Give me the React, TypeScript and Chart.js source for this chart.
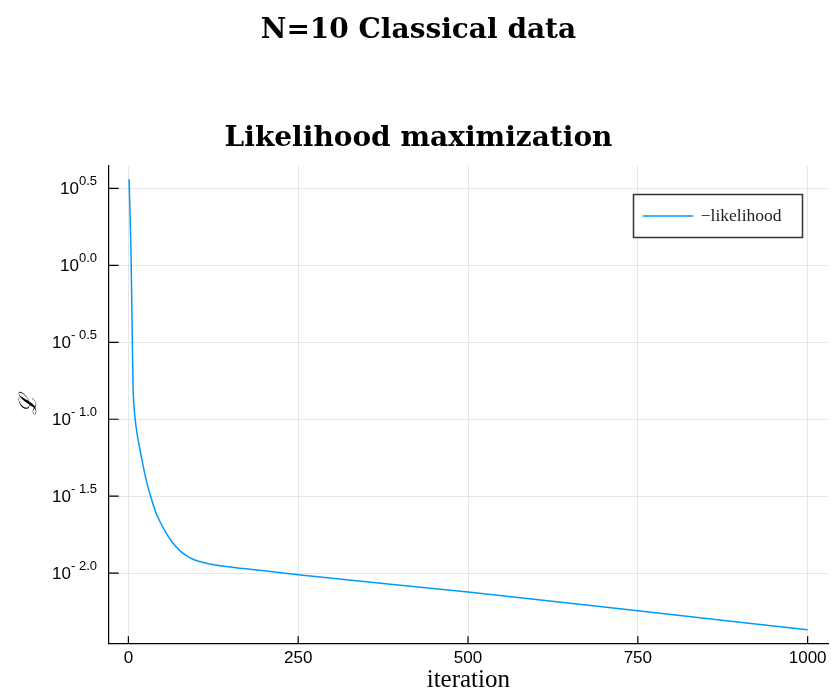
import { useEffect, useRef } from 'react';
import { Chart, registerables } from 'chart.js';

Chart.register(...registerables);

// ---- data ----
const iterations = [1, 4, 6, 7, 8, 10, 12, 15, 18, 22, 27, 32, 40, 47, 55, 65, 76, 85, 95, 105, 120, 150, 200, 250, 500, 750, 1000];
const negLikelihood = [3.63, 1.12, 0.282, 0.158, 0.126, 0.1, 0.0851, 0.0708, 0.0603, 0.049, 0.0389, 0.0324, 0.0251, 0.0214, 0.0184, 0.0158, 0.01396, 0.01303, 0.0123, 0.01189, 0.01148, 0.01096, 0.01035, 0.00977, 0.00753, 0.00569, 0.00429];

const xTicks = [0, 250, 500, 750, 1000];
const yTickExponents = [0.5, 0.0, -0.5, -1.0, -1.5, -2.0];

const xMin = -28.97;
const xMax = 1029.97;
const yMinExp = -2.456;
const yMaxExp = 0.646;

const mainTitle = 'N=10 Classical data';
const subTitle = 'Likelihood maximization';
const xLabel = 'iteration';
const yLabel = 'ℒ';
const seriesLabel = '−likelihood';
const lineColor = '#009AFA';

export default function App() {
  const ref = useRef<HTMLCanvasElement>(null);

  useEffect(() => {
    const canvas = ref.current;
    if (!canvas) return;

    const deco = {
      id: 'deco',
      afterDraw(chart: any) {
        const { ctx, chartArea: ca } = chart;
        const xs = chart.scales.x;
        const ys = chart.scales.y;
        ctx.save();

        // inward tick marks
        ctx.strokeStyle = '#000';
        ctx.lineWidth = 1.2;
        ctx.beginPath();
        xTicks.forEach((v) => {
          const px = xs.getPixelForValue(v);
          ctx.moveTo(px, ca.bottom);
          ctx.lineTo(px, ca.bottom - 7);
        });
        yTickExponents.forEach((e) => {
          const py = ys.getPixelForValue(Math.pow(10, e));
          ctx.moveTo(ca.left, py);
          ctx.lineTo(ca.left + 10, py);
        });
        ctx.stroke();

        // x tick labels
        ctx.fillStyle = '#000';
        ctx.font = '17px "Liberation Sans", Arial, sans-serif';
        ctx.textAlign = 'center';
        ctx.textBaseline = 'top';
        xTicks.forEach((v) => {
          ctx.fillText(String(v), xs.getPixelForValue(v), ca.bottom + 7);
        });

        // y tick labels with superscript
        const rightEdge = 97;
        yTickExponents.forEach((e) => {
          const py = ys.getPixelForValue(Math.pow(10, e));
          const sup = e < 0 ? '- ' + Math.abs(e).toFixed(1) : e.toFixed(1);
          ctx.font = '17px "Liberation Sans", Arial, sans-serif';
          const wb = ctx.measureText('10').width;
          ctx.font = '13px "Liberation Sans", Arial, sans-serif';
          const wsup = ctx.measureText(sup).width;
          const xsup = rightEdge - wsup;
          const xb = xsup - wb;
          ctx.textAlign = 'left';
          ctx.textBaseline = 'middle';
          ctx.font = '17px "Liberation Sans", Arial, sans-serif';
          ctx.fillText('10', xb, py + 1);
          ctx.font = '13px "Liberation Sans", Arial, sans-serif';
          ctx.fillText(sup, xsup, py - 7);
        });

        // axis titles
        ctx.font = '25px "Liberation Serif", "DejaVu Serif", serif';
        ctx.textAlign = 'center';
        ctx.textBaseline = 'alphabetic';
        ctx.fillText(xLabel, (ca.left + ca.right) / 2, 687);

        ctx.save();
        ctx.translate(30, (ca.top + ca.bottom) / 2);
        ctx.rotate(-Math.PI / 2);
        ctx.font = 'italic 24px "DejaVu Serif", serif';
        ctx.textAlign = 'center';
        ctx.textBaseline = 'middle';
        ctx.fillText(yLabel, 0, 0);
        ctx.restore();

        // titles
        ctx.font = 'bold 28px "DejaVu Serif", serif';
        ctx.textAlign = 'center';
        ctx.textBaseline = 'alphabetic';
        ctx.fillText(mainTitle, 418.5, 38);
        ctx.fillText(subTitle, 418.5, 146);

        // legend
        const lx = 633.5, ly = 194.5, lw = 169, lh = 43;
        ctx.fillStyle = '#fff';
        ctx.fillRect(lx, ly, lw, lh);
        ctx.strokeStyle = '#333';
        ctx.lineWidth = 1.5;
        ctx.strokeRect(lx, ly, lw, lh);
        ctx.strokeStyle = lineColor;
        ctx.lineWidth = 1.5;
        ctx.beginPath();
        ctx.moveTo(642.7, 216);
        ctx.lineTo(693.3, 216);
        ctx.stroke();
        ctx.fillStyle = '#222';
        ctx.font = '17.5px "Liberation Serif", "DejaVu Serif", serif';
        ctx.textAlign = 'left';
        ctx.textBaseline = 'middle';
        ctx.fillText(seriesLabel, 700.7, 216);

        ctx.restore();
      },
    };

    const chart = new Chart(canvas, {
      type: 'line',
      data: {
        datasets: [
          {
            label: seriesLabel,
            data: iterations.map((it, i) => ({ x: it, y: negLikelihood[i] })),
            borderColor: lineColor,
            borderWidth: 1.5,
            pointRadius: 0,
            fill: false,
            cubicInterpolationMode: 'monotone',
          },
        ],
      },
      options: {
        responsive: false,
        devicePixelRatio: 1,
        animation: false,
        layout: { padding: { left: 108.7, top: 166, right: 3, bottom: 46.7 } },
        plugins: {
          legend: { display: false },
          title: { display: false },
          tooltip: { enabled: false },
        },
        scales: {
          x: {
            type: 'linear',
            min: xMin,
            max: xMax,
            afterBuildTicks: (s: any) => {
              s.ticks = xTicks.map((v) => ({ value: v }));
            },
            afterFit: (s: any) => {
              s.height = 0;
            },
            ticks: { display: false },
            grid: { color: '#e6e6e6', lineWidth: 1, drawTicks: false },
            border: { display: true, color: '#000', width: 1.2 },
          },
          y: {
            type: 'logarithmic',
            min: Math.pow(10, yMinExp),
            max: Math.pow(10, yMaxExp),
            afterBuildTicks: (s: any) => {
              s.ticks = yTickExponents.map((e) => ({ value: Math.pow(10, e) }));
            },
            afterFit: (s: any) => {
              s.width = 0;
            },
            ticks: { display: false },
            grid: { color: '#e6e6e6', lineWidth: 1, drawTicks: false },
            border: { display: true, color: '#000', width: 1.2 },
          },
        },
      },
      plugins: [deco],
    } as any);

    return () => chart.destroy();
  }, []);

  return (
    <div style={{ position: 'fixed', left: 0, top: 0, width: 831, height: 690, background: '#fff' }}>
      <canvas ref={ref} width={831} height={690} style={{ display: 'block', width: 831, height: 690 }} />
    </div>
  );
}
